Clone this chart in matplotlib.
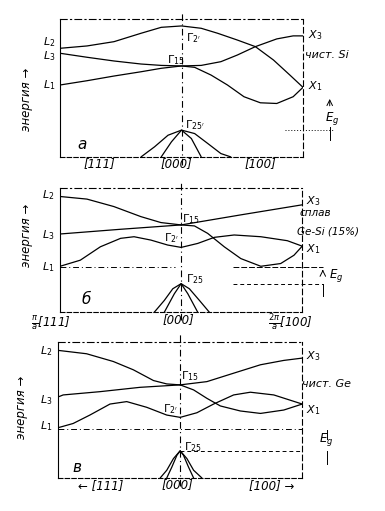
import numpy as np
from matplotlib import pyplot as plt

# --- panel a: pure Si  (k: -1 = L [111], 0 = Gamma [000], 1 = X [100]) ---
a_k1 = [-1, -0.778, -0.556, -0.333, -0.167, 0, 0.162, 0.297, 0.459, 0.608, 0.757, 0.892, 1.0]
a_e1 = [7.87, 8.04, 8.35, 8.96, 9.39, 9.49, 9.32, 8.96, 8.47, 7.99, 7.02, 5.93, 5.04]
a_k2 = [-1, -0.778, -0.556, -0.333, -0.167, 0, 0.162, 0.324, 0.459, 0.608, 0.784, 0.919, 1]
a_e2 = [7.51, 7.22, 6.95, 6.73, 6.63, 6.59, 6.63, 6.90, 7.38, 7.99, 8.55, 8.77, 8.77]
a_k3 = [-1, -0.778, -0.556, -0.333, -0.167, 0, 0.108, 0.243, 0.378, 0.514, 0.649, 0.784, 0.919, 1]
a_e3 = [5.21, 5.52, 5.86, 6.17, 6.42, 6.59, 6.49, 5.93, 5.21, 4.36, 3.92, 3.87, 4.36, 5.04]
a_vk1 = [-0.333, -0.222, -0.111, 0, 0.108, 0.216, 0.324, 0.405]
a_ve1 = [0, 0.73, 1.57, 1.94, 1.69, 0.97, 0.24, 0]
a_vk2 = [-0.167, -0.083, 0, 0.081, 0.162]
a_ve2 = [0, 1.09, 1.94, 1.33, 0]

# --- panel b: Ge-Si alloy (15%) ---
b_k1 = [-1, -0.778, -0.556, -0.333, -0.167, 0]
b_e1 = [9.32, 9.11, 8.51, 7.70, 7.22, 7.03]
b_k2 = [-1, -0.5, 0]
b_e2 = [6.30, 6.68, 7.03]
b_k3 = [0, 0.493, 1]
b_e3 = [7.03, 7.84, 8.65]
b_k4 = [0, 0.110, 0.219, 0.356, 0.493, 0.658, 0.822, 0.932, 1]
b_e4 = [7.03, 6.95, 6.35, 5.27, 4.32, 3.70, 3.92, 4.59, 5.32]
b_k5 = [-1, -0.833, -0.667, -0.5, -0.389, -0.25, -0.111, 0]
b_e5 = [3.70, 4.19, 5.27, 5.95, 6.08, 5.81, 5.41, 5.22]
b_k6 = [0, 0.137, 0.274, 0.438, 0.658, 0.877, 1]
b_e6 = [5.22, 5.54, 6.03, 6.22, 6.08, 5.76, 5.32]
b_vk1 = [-0.222, -0.139, -0.069, 0, 0.068, 0.151, 0.233]
b_ve1 = [0, 0.95, 1.89, 2.30, 1.89, 0.95, 0]
b_vk2 = [-0.139, -0.056, 0, 0.055, 0.137]
b_ve2 = [0, 1.49, 2.30, 1.49, 0]

# --- panel c: pure Ge ---
c_k1 = [-0.992, -0.767, -0.548, -0.384, -0.219, -0.110, 0]
c_e1 = [9.38, 9.14, 8.57, 7.96, 7.17, 6.92, 6.85]
c_k2 = [0, 0.219, 0.438, 0.658, 0.849, 1]
c_e2 = [6.85, 7.09, 7.71, 8.33, 8.65, 8.82]
c_k3 = [-0.992, -0.959, -0.658, -0.329, 0]
c_e3 = [5.99, 6.11, 6.35, 6.67, 6.85]
c_k4 = [0, 0.110, 0.219, 0.329, 0.493, 0.658, 0.849, 1]
c_e4 = [6.85, 6.48, 5.86, 5.30, 4.93, 4.75, 5.00, 5.44]
c_k5 = [-0.992, -0.877, -0.740, -0.575, -0.438, -0.274, -0.110, 0]
c_e5 = [3.72, 4.01, 4.63, 5.44, 5.62, 5.20, 4.63, 4.46]
c_k6 = [0, 0.137, 0.274, 0.438, 0.575, 0.767, 1]
c_e6 = [4.46, 4.80, 5.44, 6.11, 6.31, 6.11, 5.44]
c_vk1 = [-0.164, -0.110, -0.055, 0, 0.055, 0.110, 0.178]
c_ve1 = [0, 0.57, 1.43, 2.0, 1.43, 0.57, 0]
c_vk2 = [-0.110, -0.068, -0.027, 0, 0.027, 0.068, 0.110]
c_ve2 = [0, 0.81, 1.67, 2.0, 1.67, 0.81, 0]

# energies of the L1 level and the valence top (used for Eg marks)
gap_lines = {'a': (None, 1.94), 'b': (3.65, 2.30), 'c': (3.60, 2.0)}

fig = plt.figure(figsize=(3.85, 5.11), dpi=100)
plt.rcParams['font.family'] = 'DejaVu Sans'

def panel(rect):
    ax = fig.add_axes(rect)
    ax.set_xlim(-1, 1)
    ax.set_ylim(0, 10)
    ax.set_xticks([])
    ax.set_yticks([])
    ax.patch.set_alpha(0)
    for s in ax.spines.values():
        s.set_linewidth(0.8)
    ax.spines['top'].set_linestyle((0, (6, 3, 1, 3)))
    ax.spines['right'].set_linestyle((0, (5, 3)))
    ax.spines['bottom'].set_linestyle((0, (4, 2)))
    ax.plot([0, 0], [-0.6, 10.6], color='k', lw=0.8, ls=(0, (6, 3, 1, 3)), clip_on=False)
    return ax

def curves(ax, pairs):
    for k, e in pairs:
        ax.plot(k, e, color='k', lw=0.9, solid_capstyle='round')

tkw = dict(fontsize=8.5, style='italic', clip_on=False, ha='center', va='center')
lkw = dict(fontsize=8, style='italic', clip_on=False, ha='center', va='center')
ekw = dict(rotation=90, fontsize=8.5, style='italic', clip_on=False, ha='center', va='center')

axA = panel([0.156, 0.693, 0.631, 0.270])
axB = panel([0.156, 0.389, 0.629, 0.243])
axC = panel([0.151, 0.0646, 0.634, 0.266])

curves(axA, [(a_k1, a_e1), (a_k2, a_e2), (a_k3, a_e3), (a_vk1, a_ve1), (a_vk2, a_ve2)])
curves(axB, [(b_k1, b_e1), (b_k2, b_e2), (b_k3, b_e3), (b_k4, b_e4), (b_k5, b_e5),
             (b_k6, b_e6), (b_vk1, b_ve1), (b_vk2, b_ve2)])
curves(axC, [(c_k1, c_e1), (c_k2, c_e2), (c_k3, c_e3), (c_k4, c_e4), (c_k5, c_e5),
             (c_k6, c_e6), (c_vk1, c_ve1), (c_vk2, c_ve2)])

# panel a labels
axA.text(-1.09, 8.3, '$L_2$', **lkw)
axA.text(-1.09, 7.3, '$L_3$', **lkw)
axA.text(-1.09, 5.2, '$L_1$', **lkw)
axA.text(0.1, 8.6, "$\\Gamma_{2'}$", **lkw)
axA.text(-0.05, 7.0, '$\\Gamma_{15}$', **lkw)
axA.text(0.11, 2.3, "$\\Gamma_{25'}$", **lkw)
axA.text(1.1, 8.8, '$X_3$', **lkw)
axA.text(1.2, 7.4, 'чист. Si', **lkw)
axA.text(1.1, 5.1, '$X_1$', **lkw)
axA.text(-0.82, 0.9, 'а', fontsize=11, style='italic', clip_on=False, ha='center', va='center')
axA.plot([0.85, 1.25], [1.94, 1.94], color='k', lw=0.7, ls=(0, (1, 2)), clip_on=False)
axA.annotate('', xy=(1.22, 4.4), xytext=(1.22, 3.5), arrowprops=dict(arrowstyle='->', lw=0.7), annotation_clip=False)
axA.plot([1.22, 1.22], [2.2, 1.2], color='k', lw=0.7, clip_on=False)
axA.text(1.24, 2.8, '$E_g$', **tkw)
axA.text(-0.68, -0.45, '[111]', **tkw)
axA.text(-0.04, -0.45, '[000]', **tkw)
axA.text(0.65, -0.45, '[100]', **tkw)
axA.text(-1.28, 4.2, 'энергия →', **ekw)

# panel b labels
axB.text(-1.1, 9.4, '$L_2$', **lkw)
axB.text(-1.1, 6.2, '$L_3$', **lkw)
axB.text(-1.1, 3.6, '$L_1$', **lkw)
axB.text(0.08, 7.5, '$\\Gamma_{15}$', **lkw)
axB.text(-0.08, 6.0, "$\\Gamma_{2'}$", **lkw)
axB.text(0.11, 2.7, "$\\Gamma_{25}$", **lkw)
axB.text(1.09, 8.95, '$X_3$', **lkw)
axB.text(1.11, 8.0, 'сплав', fontsize=7.5, style='italic', clip_on=False, ha='center', va='center')
axB.text(1.21, 6.5, 'Ge-Si (15%)', fontsize=7.5, style='italic', clip_on=False, ha='center', va='center')
axB.text(1.09, 5.1, '$X_1$', **lkw)
axB.text(-0.78, 1.0, 'б', fontsize=11, style='italic', clip_on=False, ha='center', va='center')
lvl, top = gap_lines['b']
axB.plot([-1, -0.05], [lvl, lvl], color='k', lw=0.7, ls=(0, (6, 3, 1, 3)))
axB.plot([0.43, 1.17], [lvl, lvl], color='k', lw=0.7, ls=(0, (6, 2)), clip_on=False)
axB.plot([0.43, 1.17], [top, top], color='k', lw=0.7, ls=(0, (4, 3)), clip_on=False)
axB.annotate('', xy=(1.17, lvl), xytext=(1.17, lvl - 0.6), arrowprops=dict(arrowstyle='->', lw=0.7), annotation_clip=False)
axB.plot([1.17, 1.17], [top, top - 1.0], color='k', lw=0.7, clip_on=False)
axB.text(1.28, 2.95, '$E_g$', **tkw)
axB.text(-1.08, -0.85, '$\\frac{\\pi}{a}$[111]', **tkw)
axB.text(-0.02, -0.55, '[000]', **tkw)
axB.text(0.9, -0.85, '$\\frac{2\\pi}{a}$[100]', **tkw)
axB.text(-1.28, 6.2, 'энергия →', **ekw)

# panel c labels
axC.text(-1.1, 9.3, '$L_2$', **lkw)
axC.text(-1.1, 5.7, '$L_3$', **lkw)
axC.text(-1.1, 3.8, '$L_1$', **lkw)
axC.text(0.08, 7.5, '$\\Gamma_{15}$', **lkw)
axC.text(-0.08, 5.1, "$\\Gamma_{2'}$", **lkw)
axC.text(0.1, 2.3, "$\\Gamma_{25}$", **lkw)
axC.text(1.09, 9.0, '$X_3$', **lkw)
axC.text(1.2, 6.9, 'чист. Ge', **lkw)
axC.text(1.09, 5.0, '$X_1$', **lkw)
axC.text(-0.85, 0.8, 'в', fontsize=11, style='italic', clip_on=False, ha='center', va='center')
lvl, top = gap_lines['c']
axC.plot([-1, 1], [lvl, lvl], color='k', lw=0.7, ls=(0, (6, 3, 1, 3)))
axC.plot([0, 1], [top, top], color='k', lw=0.7, ls=(0, (4, 3)))
axC.plot([1.2, 1.2], [lvl - 0.1, lvl - 0.7], color='k', lw=0.7, clip_on=False)
axC.plot([1.2, 1.2], [top, top - 1.0], color='k', lw=0.7, clip_on=False)
axC.text(1.2, 2.8, '$E_g$', **tkw)
axC.text(-0.65, -0.55, '← [111]', **tkw)
axC.text(-0.02, -0.5, '[000]', **tkw)
axC.text(0.75, -0.55, '[100] →', **tkw)
axC.text(-1.3, 5.2, 'энергия →', **ekw)

plt.savefig('out.png', dpi=100)
